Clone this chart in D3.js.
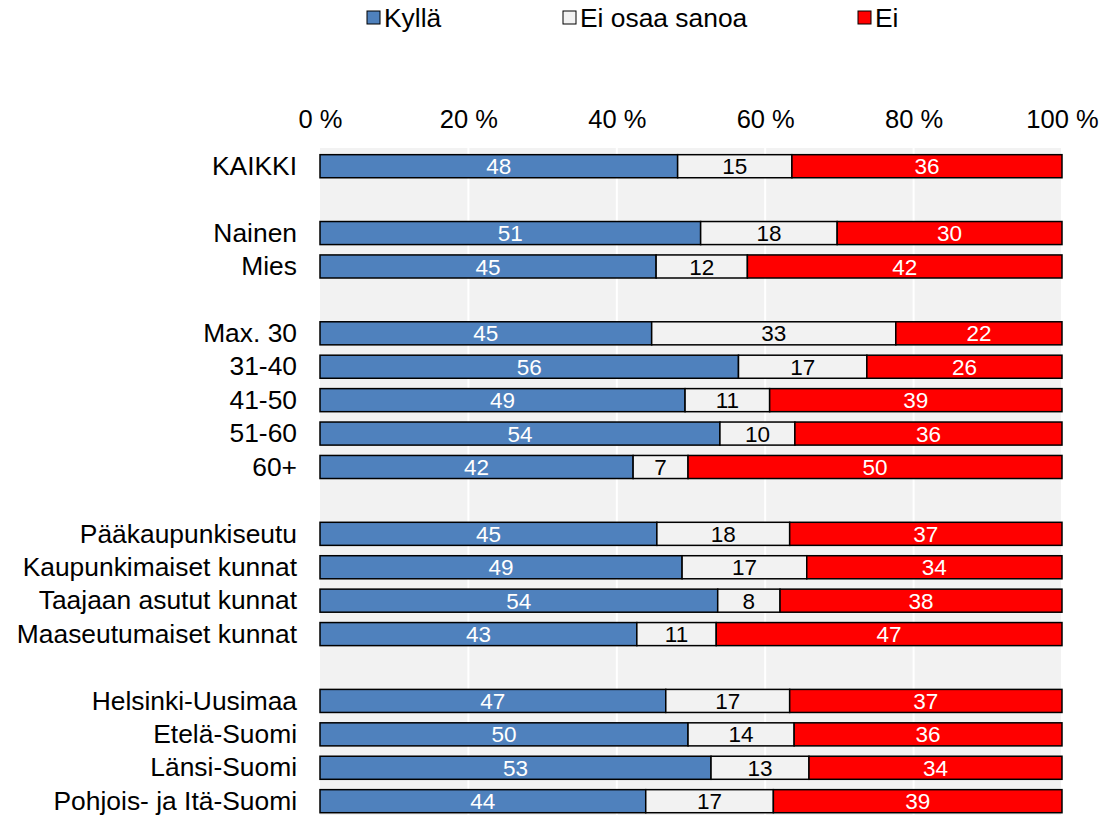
<!DOCTYPE html>
<html lang="fi">
<head>
    <meta charset="UTF-8">
    <title>Kyllä / Ei osaa sanoa / Ei</title>
    <script src="https://d3js.org/d3.v7.min.js"></script>
    <style>
        body { margin: 0; background: #fff; }
        text { font-family: "Liberation Sans", Arial, sans-serif; }
    </style>
</head>
<body>
    <svg width="1101" height="815" id="chart"></svg>

    <script>
        // Rows, empty strings are the gaps between groups
        const categories = ["KAIKKI", "", "Nainen", "Mies", "", "Max. 30", "31-40", "41-50", "51-60", "60+", "",
            "Pääkaupunkiseutu", "Kaupunkimaiset kunnat", "Taajaan asutut kunnat", "Maaseutumaiset kunnat", "",
            "Helsinki-Uusimaa", "Etelä-Suomi", "Länsi-Suomi", "Pohjois- ja Itä-Suomi"];
        const kylla = [48.2, null, 51.3, 45.3, null, 44.7, 56.4, 49.2, 53.9, 42.2, null, 45.4, 48.8, 53.6, 42.7, null, 46.6, 49.6, 52.7, 43.9];
        const eiOsaa = [15.4, null, 18.4, 12.3, null, 32.9, 17.3, 11.4, 10.1, 7.4, null, 17.9, 16.8, 8.4, 10.7, null, 16.7, 14.3, 13.2, 17.2];
        const ei = [36.4, null, 30.3, 42.4, null, 22.4, 26.3, 39.4, 36.0, 50.4, null, 36.7, 34.4, 38.0, 46.6, null, 36.7, 36.1, 34.1, 38.9];
        const seriesNames = ["Kyllä", "Ei osaa sanoa", "Ei"];
        const tickValues = [0, 20, 40, 60, 80, 100];

        const colors = ["#4f81bd", "#f2f2f2", "#ff0000"];
        const labelColors = ["#fff", "#000", "#fff"];

        const svg = d3.select("#chart");
        const plotLeft = 320, plotRight = 1062, plotTop = 148, step = 33.42;

        const x = d3.scaleLinear().domain([0, 100]).range([plotLeft, plotRight]);
        const y = d3.scaleBand()
            .domain(d3.range(categories.length))
            .range([plotTop + 1.5, plotTop + 1.5 + step * categories.length])
            .paddingInner(0.31)
            .paddingOuter(0.155);

        // plot background + gridlines
        svg.append("rect")
            .attr("x", plotLeft).attr("y", plotTop)
            .attr("width", plotRight - plotLeft - 1).attr("height", 815 - plotTop)
            .attr("fill", "#f2f2f2");

        svg.append("g").selectAll("line")
            .data(tickValues.slice(1, -1))
            .join("line")
            .attr("x1", d => x(d)).attr("x2", d => x(d))
            .attr("y1", plotTop).attr("y2", 815)
            .attr("stroke", "#fff").attr("stroke-width", 2);

        // top axis labels
        const xAxis = svg.append("g")
            .attr("transform", `translate(0,${plotTop - 20})`)
            .call(d3.axisTop(x).tickValues(tickValues).tickFormat(d => d + " %").tickSize(0).tickPadding(0));
        xAxis.select(".domain").remove();
        xAxis.selectAll("text").attr("font-size", 25.5).attr("fill", "#000")
            .style("font-family", '"Liberation Sans", Arial, sans-serif');

        // stacked segments per row
        const rows = categories.map((c, i) => ({ i, c, vals: [kylla[i], eiOsaa[i], ei[i]] }))
            .filter(r => r.vals[0] !== null);

        const rowG = svg.append("g").selectAll("g")
            .data(rows)
            .join("g");

        rowG.each(function(r) {
            const g = d3.select(this);
            let start = 0;
            r.vals.forEach((v, k) => {
                const x0 = x(start), x1 = x(start + v);
                g.append("rect")
                    .attr("x", x0).attr("y", y(r.i))
                    .attr("width", x1 - x0).attr("height", y.bandwidth())
                    .attr("fill", colors[k])
                    .attr("stroke", "#000").attr("stroke-width", 1.5);
                g.append("text")
                    .attr("x", (x0 + x1) / 2)
                    .attr("y", y(r.i) + y.bandwidth() / 2)
                    .attr("dy", "0.36em")
                    .attr("text-anchor", "middle")
                    .attr("font-size", 22.5)
                    .attr("fill", labelColors[k])
                    .text(Math.round(v));
                start += v;
            });
        });

        // category labels
        svg.append("g").selectAll("text")
            .data(rows)
            .join("text")
            .attr("x", plotLeft - 23)
            .attr("y", r => y(r.i) + y.bandwidth() / 2)
            .attr("dy", "0.33em")
            .attr("text-anchor", "end")
            .attr("font-size", 26.4)
            .attr("fill", "#000")
            .text(r => r.c);

        // legend
        const legendX = [367, 563, 858];
        const legend = svg.append("g").selectAll("g")
            .data(seriesNames)
            .join("g")
            .attr("transform", (d, i) => `translate(${legendX[i]},11)`);
        legend.append("rect")
            .attr("width", 13).attr("height", 13)
            .attr("fill", (d, i) => colors[i])
            .attr("stroke", "#000").attr("stroke-width", 1);
        legend.append("text")
            .attr("x", 17).attr("y", 6).attr("dy", "0.36em")
            .attr("font-size", 26.4)
            .attr("fill", "#000")
            .text(d => d);
    </script>
</body>
</html>
